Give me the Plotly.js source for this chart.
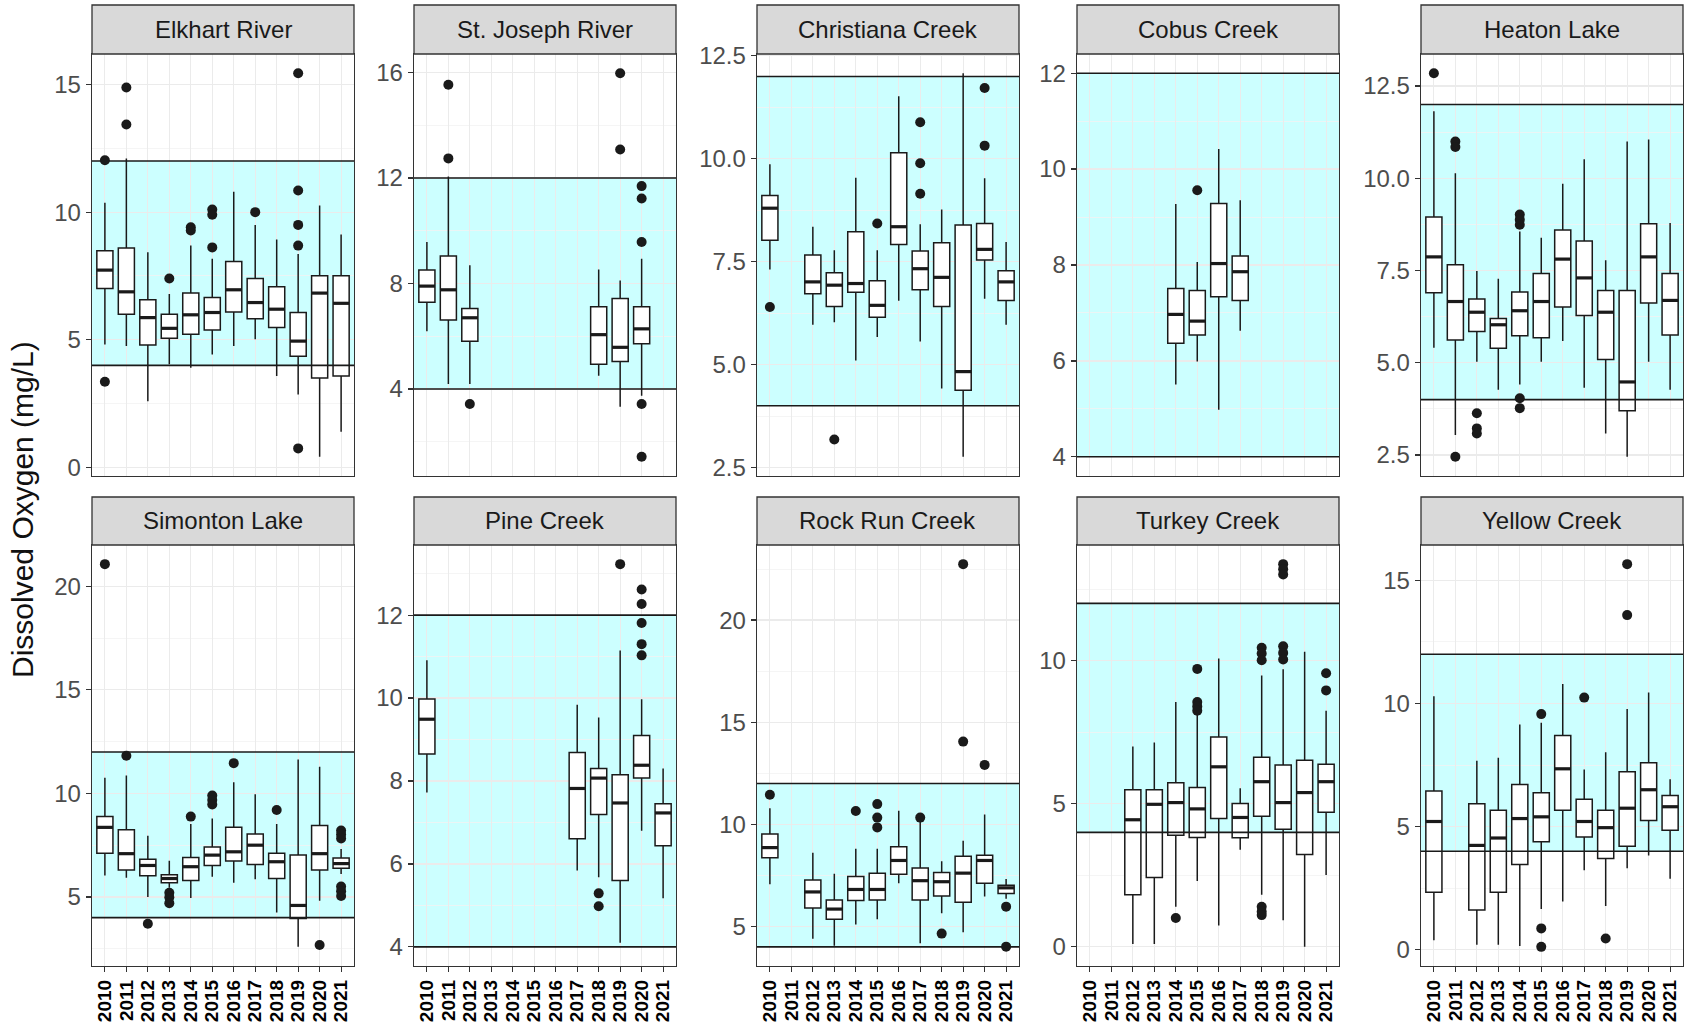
<!DOCTYPE html>
<html><head><meta charset="utf-8">
<script src="https://cdn.plot.ly/plotly-3.0.1.min.js"></script>
<style>html,body{margin:0;padding:0;background:#fff}</style>
</head><body><div id="chart" style="width:1690px;height:1031px"></div>
<script>
// ---------- DATA ----------
const years = ['2010','2011','2012','2013','2014','2015','2016','2017','2018','2019','2020','2021'];
const siteNames = ['Elkhart River','St. Joseph River','Christiana Creek','Cobus Creek','Heaton Lake',
                   'Simonton Lake','Pine Creek','Rock Run Creek','Turkey Creek','Yellow Creek'];
// rows: [year, lower whisker, Q1, median, Q3, upper whisker]
const elkhartBoxes = [
 [2010,4.82,7.01,7.73,8.49,10.37],[2011,4.76,6.00,6.88,8.60,12.10],[2012,2.60,4.80,5.87,6.57,8.43],
 [2013,4.04,5.06,5.45,6.00,6.79],[2014,3.91,5.22,5.98,6.83,8.69],[2015,4.43,5.39,6.07,6.66,8.17],
 [2016,4.76,6.09,6.96,8.07,10.80],[2017,5.02,5.83,6.46,7.40,9.50],[2018,3.58,5.48,6.20,7.08,8.93],
 [2019,2.86,4.36,4.95,6.07,8.36],[2020,0.42,3.51,6.83,7.51,10.26],[2021,1.40,3.58,6.43,7.51,9.12]];
const elkhartOutliers = [[2010,12.03],[2010,3.36],[2011,14.88],[2011,13.43],[2013,7.40],[2014,9.41],[2014,9.28],
 [2015,10.10],[2015,9.90],[2015,8.62],[2017,10.0],[2019,15.44],[2019,10.85],[2019,9.50],[2019,8.69],[2019,0.75]];

const stJosephBoxes = [
 [2010,6.19,7.29,7.90,8.51,9.57],[2011,4.19,6.62,7.76,9.04,12.05],[2012,4.19,5.81,6.70,7.05,8.69],
 [2018,4.50,4.94,6.06,7.12,8.53],[2019,3.33,5.04,5.58,7.43,8.11],[2020,3.74,5.72,6.28,7.12,8.94]];
const stJosephOutliers = [[2011,15.53],[2011,12.74],[2012,3.43],[2019,15.97],[2019,13.08],
 [2020,11.69],[2020,11.22],[2020,9.57],[2020,3.43],[2020,1.43]];

const christianaBoxes = [
 [2010,7.31,8.02,8.80,9.11,9.87],[2012,5.97,6.72,7.01,7.66,8.35],[2013,6.03,6.41,6.93,7.23,7.78],
 [2014,5.10,6.76,6.97,8.23,9.54],[2015,5.67,6.15,6.44,7.04,7.78],[2016,6.55,7.92,8.35,10.15,11.52],
 [2017,5.56,6.82,7.33,7.76,8.41],[2018,4.42,6.41,7.12,7.96,8.77],[2019,2.76,4.38,4.83,8.39,12.08],
 [2020,6.60,7.54,7.80,8.43,9.53],[2021,5.97,6.56,7.01,7.28,7.98]];
const christianaOutliers = [[2010,6.40],[2013,3.18],[2015,8.43],[2017,10.89],[2017,9.89],[2017,9.15],[2020,11.72],[2020,10.32]];

const cobusBoxes = [
 [2014,5.51,6.37,6.97,7.51,9.27],[2015,5.99,6.54,6.83,7.47,8.06],
 [2016,4.98,7.34,8.03,9.28,10.42],[2017,6.63,7.26,7.86,8.19,9.35]];
const cobusOutliers = [[2015,9.56]];

const heatonBoxes = [
 [2010,5.41,6.90,7.87,8.95,11.82],[2011,3.04,5.62,6.66,7.66,10.14],[2012,5.03,5.85,6.37,6.73,7.49],
 [2013,4.27,5.39,6.03,6.20,7.28],[2014,4.41,5.73,6.41,6.92,8.56],[2015,5.03,5.68,6.66,7.42,8.39],
 [2016,5.59,6.51,7.81,8.60,9.85],[2017,4.32,6.28,7.30,8.30,10.52],[2018,3.08,5.09,6.37,6.96,7.78],
 [2019,2.45,3.70,4.48,6.96,11.00],[2020,5.03,6.62,7.87,8.77,11.05],[2021,4.27,5.75,6.69,7.42,8.79]];
const heatonOutliers = [[2010,12.85],[2011,11.0],[2011,10.85],[2011,2.45],[2012,3.63],[2012,3.22],[2012,3.08],
 [2014,9.02],[2014,8.88],[2014,8.74],[2014,4.04],[2014,3.77]];

const simontonBoxes = [
 [2010,6.04,7.11,8.36,8.88,10.75],[2011,5.93,6.30,7.09,8.25,10.86],[2012,5.00,6.02,6.52,6.82,7.95],
 [2013,5.45,5.68,5.89,6.07,6.75],[2014,4.95,5.80,6.46,6.91,8.52],[2015,5.98,6.52,7.02,7.41,8.79],
 [2016,5.68,6.73,7.18,8.36,10.54],[2017,5.86,6.57,7.50,8.04,9.96],[2018,4.25,5.89,6.70,7.11,8.52],
 [2019,2.59,3.96,4.59,7.02,11.64],[2020,4.82,6.30,7.09,8.45,11.29],[2021,6.11,6.38,6.61,6.88,7.32]];
const simontonOutliers = [[2010,21.07],[2011,11.82],[2012,3.71],[2013,5.20],[2013,4.98],[2013,4.70],[2014,8.88],
 [2015,9.90],[2015,9.68],[2015,9.46],[2016,11.46],[2018,9.20],[2020,2.68],
 [2021,8.21],[2021,8.02],[2021,7.82],[2021,5.50],[2021,5.28],[2021,5.05]];

const pineBoxes = [
 [2010,7.72,8.65,9.49,9.98,10.91],[2017,5.84,6.61,7.82,8.69,9.84],[2018,5.68,7.19,8.07,8.30,9.53],
 [2019,4.10,5.60,7.47,8.15,11.15],[2020,6.80,8.07,8.38,9.10,9.97],[2021,5.17,6.44,7.23,7.45,8.30]];
const pineOutliers = [[2018,5.29],[2018,4.98],[2019,13.23],[2020,12.62],[2020,12.27],[2020,11.81],[2020,11.30],[2020,11.03]];

const rockRunBoxes = [
 [2010,7.07,8.36,8.86,9.53,10.79],[2012,4.40,5.90,6.69,7.27,8.61],[2013,4.05,5.35,5.85,6.30,7.58],
 [2014,5.10,6.27,6.81,7.44,8.81],[2015,5.35,6.30,6.81,7.61,8.81],[2016,7.11,7.56,8.23,8.90,10.67],
 [2017,4.18,6.30,7.24,7.86,10.30],[2018,5.64,6.49,7.19,7.64,8.19],[2019,4.72,6.19,7.61,8.44,9.20],
 [2020,6.47,7.11,8.23,8.48,10.48],[2021,6.35,6.61,6.89,7.02,7.32]];
const rockRunOutliers = [[2010,11.45],[2014,10.65],[2015,10.99],[2015,10.33],[2015,9.85],[2017,10.33],[2018,4.65],
 [2019,22.74],[2019,14.05],[2020,12.91],[2021,5.97],[2021,4.01]];

const turkeyBoxes = [
 [2012,0.10,1.82,4.44,5.49,7.00],[2013,0.10,2.42,4.98,5.49,7.14],[2014,1.40,3.90,5.04,5.73,8.55],
 [2015,2.30,3.82,4.82,5.57,8.13],[2016,0.75,4.48,6.29,7.33,10.07],[2017,3.39,3.81,4.52,5.01,5.54],
 [2018,1.82,4.56,5.77,6.62,9.48],[2019,0.93,4.11,5.04,6.35,9.70],[2020,0.00,3.23,5.39,6.52,10.31],
 [2021,2.51,4.70,5.77,6.38,8.25]];
const turkeyOutliers = [[2014,1.01],[2015,9.71],[2015,8.55],[2015,8.40],[2015,8.25],[2018,10.45],[2018,10.25],[2018,10.01],
 [2018,1.40],[2018,1.23],[2018,1.11],[2019,13.37],[2019,13.19],[2019,13.01],[2019,10.50],[2019,10.27],[2019,10.04],
 [2021,9.56],[2021,8.96]];

const yellowBoxes = [
 [2010,0.39,2.34,5.21,6.45,10.30],[2012,0.21,1.62,4.24,5.93,7.68],[2013,0.21,2.34,4.54,5.67,7.80],
 [2014,0.16,3.46,5.33,6.71,9.15],[2015,1.66,4.39,5.40,6.38,9.22],[2016,1.96,5.67,7.35,8.70,10.79],
 [2017,3.23,4.58,5.21,6.11,7.32],[2018,1.78,3.71,4.96,5.67,8.02],[2019,3.31,4.21,5.75,7.23,9.78],
 [2020,3.83,5.25,6.50,7.60,10.45],[2021,2.89,4.85,5.81,6.27,6.93]];
const yellowOutliers = [[2015,9.57],[2015,0.87],[2015,0.12],[2017,10.24],[2018,0.46],[2019,15.66],[2019,13.59]];

// target band (mg/L)
const bandLow = 4, bandHigh = 12;
// y tick step per panel
const tickSteps = [5, 4, 2.5, 2, 2.5, 5, 2, 5, 5, 5];

const siteBoxes = [elkhartBoxes, stJosephBoxes, christianaBoxes, cobusBoxes, heatonBoxes,
                   simontonBoxes, pineBoxes, rockRunBoxes, turkeyBoxes, yellowBoxes];
const siteOutliers = [elkhartOutliers, stJosephOutliers, christianaOutliers, cobusOutliers, heatonOutliers,
                      simontonOutliers, pineOutliers, rockRunOutliers, turkeyOutliers, yellowOutliers];

// ---------- LAYOUT ----------
const W = 1690, H = 1031;
const colLeft = [92, 414, 757, 1077, 1421], panelW = 262;
const rowTop = [54, 545], rowBottom = [476, 966], stripTop = [5, 497];
const FONT = 'Liberation Sans, Arial, sans-serif';
const INK = '#1a1a1a';
const boxW = 0.75;
const xRange = [-0.6, years.length - 0.4];

const traces = [], shapes = [], annotations = [];
const layout = {
  width: W, height: H, margin: {l:0, r:0, t:0, b:0},
  paper_bgcolor: '#fff', plot_bgcolor: 'rgba(0,0,0,0)', showlegend: false,
  font: {family: FONT}
};

siteNames.forEach((name, i) => {
  const k = i + 1, sfx = k === 1 ? '' : String(k);
  const xa = 'x' + sfx, ya = 'y' + sfx;
  const row = Math.floor(i / 5), col = i % 5;
  const boxes = siteBoxes[i], outs = siteOutliers[i];
  const xi = boxes.map(b => years.indexOf(String(b[0])));

  // band limit lines (under boxes, above gridlines)
  traces.push({type:'scatter', mode:'lines', xaxis: xa, yaxis: ya,
    x: [xRange[0], xRange[1], null, xRange[0], xRange[1]], y: [bandLow, bandLow, null, bandHigh, bandHigh],
    line: {color: INK, width: 1.6}, hoverinfo: 'skip', cliponaxis: true});

  traces.push({
    type: 'box', xaxis: xa, yaxis: ya, x: xi,
    lowerfence: boxes.map(b => b[1]), q1: boxes.map(b => b[2]), median: boxes.map(b => b[3]),
    q3: boxes.map(b => b[4]), upperfence: boxes.map(b => b[5]),
    width: boxW, whiskerwidth: 0, boxpoints: false,
    fillcolor: '#ffffff', line: {color: INK, width: 1.5}, hoverinfo: 'skip'
  });
  // thicker median bars
  const mx = [], my = [];
  boxes.forEach((b, j) => { mx.push(xi[j] - boxW/2, xi[j] + boxW/2, null); my.push(b[3], b[3], null); });
  traces.push({type:'scatter', mode:'lines', xaxis: xa, yaxis: ya, x: mx, y: my,
    line: {color: INK, width: 3.2}, hoverinfo: 'skip'});
  traces.push({type:'scatter', mode:'markers', xaxis: xa, yaxis: ya,
    x: outs.map(o => years.indexOf(String(o[0]))), y: outs.map(o => o[1]),
    marker: {color: INK, size: 10}, hoverinfo: 'skip'});

  // scale range as ggplot: data + band, expanded 5%
  const vals = [bandLow, bandHigh];
  boxes.forEach(b => vals.push(b[1], b[5]));
  outs.forEach(o => vals.push(o[1]));
  const lo = Math.min(...vals), hi = Math.max(...vals), pad = 0.05 * (hi - lo);
  const step = tickSteps[i];

  layout['xaxis' + sfx] = {
    domain: [colLeft[col] / W, (colLeft[col] + panelW) / W], anchor: ya,
    range: xRange, tickmode: 'array',
    tickvals: years.map((y, j) => j), ticktext: years,
    showticklabels: row === 1, ticks: row === 1 ? 'outside' : '', ticklen: 5, tickwidth: 1.2, tickcolor: '#333',
    tickangle: -90, tickfont: {family: FONT, size: 19, color: '#000', weight: 'bold'},
    showgrid: true, gridcolor: '#ebebeb', gridwidth: 1.2, zeroline: false,
    showline: true, mirror: true, linecolor: '#333', linewidth: 1.3, fixedrange: true
  };
  layout['yaxis' + sfx] = {
    domain: [(H - rowBottom[row]) / H, (H - rowTop[row]) / H], anchor: xa,
    range: [lo - pad, hi + pad], tickmode: 'linear', tick0: 0, dtick: step,
    tickformat: step % 1 ? '.1f' : '', ticks: 'outside', ticklen: 5, tickwidth: 1.2, tickcolor: '#333',
    tickfont: {family: FONT, size: 24, color: '#4d4d4d'},
    showgrid: true, gridcolor: '#ebebeb', gridwidth: 1.2, zeroline: false,
    minor: {dtick: step / 2, tick0: 0, showgrid: true, gridcolor: '#f2f2f2', gridwidth: 0.8},
    showline: true, mirror: true, linecolor: '#333', linewidth: 1.3, fixedrange: true
  };

  shapes.push({type:'rect', xref: xa + ' domain', yref: ya, x0: 0, x1: 1, y0: bandLow, y1: bandHigh,
    fillcolor: 'rgba(0,255,255,0.2)', line: {width: 0}, layer: 'below'});

  // facet strip
  shapes.push({type:'rect', xref:'paper', yref:'paper',
    x0: colLeft[col] / W, x1: (colLeft[col] + panelW) / W,
    y0: (H - rowTop[row]) / H, y1: (H - stripTop[row]) / H,
    fillcolor: '#d9d9d9', line: {color: '#333', width: 1.3}, layer: 'above'});
  annotations.push({xref:'paper', yref:'paper', x: (colLeft[col] + panelW / 2) / W,
    y: (H - (rowTop[row] + stripTop[row]) / 2) / H, text: name, showarrow: false,
    xanchor: 'center', yanchor: 'middle', font: {family: FONT, size: 24, color: '#1a1a1a'}});
});

annotations.push({xref:'paper', yref:'paper', x: 23 / W, y: (H - 510) / H, text: 'Dissolved Oxygen (mg/L)',
  textangle: -90, showarrow: false, xanchor: 'center', yanchor: 'middle',
  font: {family: FONT, size: 30, color: '#111'}});

layout.shapes = shapes;
layout.annotations = annotations;

Plotly.newPlot('chart', traces, layout, {staticPlot: true, displayModeBar: false});
</script></body></html>
